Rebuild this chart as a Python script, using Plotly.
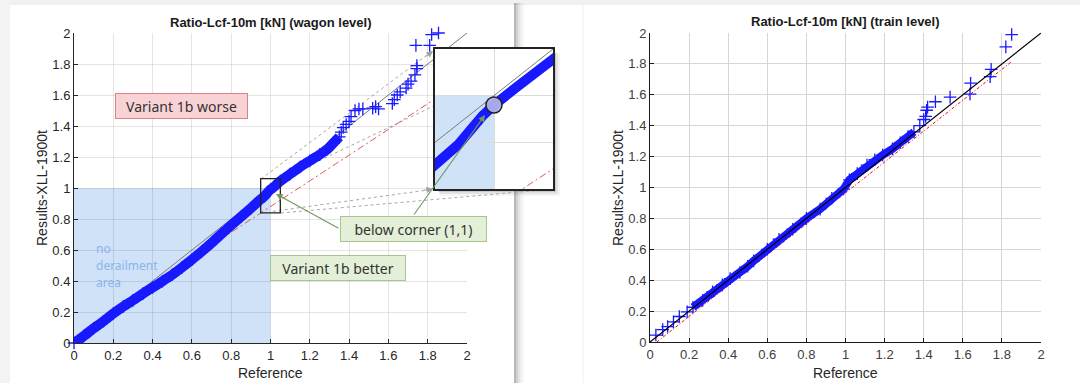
import plotly.graph_objects as go

W, H = 1080, 383

# ---------------- data ----------------
tick_vals = [0, 0.2, 0.4, 0.6, 0.8, 1.0, 1.2, 1.4, 1.6, 1.8, 2.0]
tick_text = ["0", "0.2", "0.4", "0.6", "0.8", "1", "1.2", "1.4", "1.6", "1.8", "2"]

# wagon level (left) - dense part of the quantile curve
wagon_band_ref = [0, 0.05, 0.1, 0.15, 0.2, 0.25, 0.3, 0.35, 0.4, 0.45, 0.5, 0.55, 0.6, 0.65, 0.7,
                  0.75, 0.8, 0.85, 0.9, 0.95, 0.97, 0.99, 1.0, 1.02, 1.035, 1.05, 1.1, 1.15, 1.2,
                  1.25, 1.29, 1.32, 1.35]
wagon_band_res = [0, 0.045, 0.095, 0.14, 0.19, 0.235, 0.275, 0.318, 0.358, 0.398, 0.44, 0.488,
                  0.538, 0.59, 0.645, 0.703, 0.76, 0.815, 0.87, 0.927, 0.948, 0.978, 0.99, 1.01,
                  1.028, 1.045, 1.09, 1.135, 1.175, 1.215, 1.25, 1.29, 1.33]
# wagon level - sparse upper tail
wagon_tail_ref = [1.36, 1.37, 1.385, 1.40, 1.41, 1.43, 1.45, 1.47, 1.52, 1.535, 1.55, 1.62, 1.63,
                  1.645, 1.66, 1.69, 1.70, 1.715, 1.735, 1.745, 1.745, 1.74, 1.81, 1.82, 1.855]
wagon_tail_res = [1.36, 1.39, 1.41, 1.43, 1.46, 1.50, 1.51, 1.51, 1.515, 1.525, 1.51, 1.545, 1.57,
                  1.60, 1.62, 1.645, 1.67, 1.69, 1.73, 1.77, 1.79, 1.92, 1.92, 1.99, 2.0]

# train level (right)
train_band_ref = [0.22, 0.27, 0.32, 0.37, 0.41, 0.46, 0.50, 0.53, 0.60, 0.66, 0.73, 0.80, 0.87,
                  0.93, 0.99, 1.02, 1.06, 1.11, 1.15, 1.19, 1.24, 1.28, 1.32, 1.35]
train_band_res = [0.225, 0.27, 0.325, 0.37, 0.41, 0.45, 0.49, 0.525, 0.60, 0.665, 0.73, 0.80,
                  0.86, 0.93, 0.99, 1.05, 1.09, 1.145, 1.18, 1.21, 1.25, 1.29, 1.33, 1.36]
train_tail_ref = [0.03, 0.065, 0.09, 0.12, 0.15, 0.19, 1.38, 1.40, 1.41, 1.415, 1.42, 1.46,
                  1.535, 1.64, 1.637, 1.74, 1.745, 1.82, 1.85]
train_tail_res = [0.045, 0.08, 0.10, 0.13, 0.165, 0.195, 1.40, 1.44, 1.46, 1.50, 1.52, 1.555,
                  1.585, 1.675, 1.605, 1.717, 1.765, 1.91, 1.99]

diag_ref = [0, 2]
diag_res = [0, 2]
wagon_fit_ref = [0.55, 1.83]
wagon_fit_res = [0.5065, 1.569]
train_fit_ref = [0.035, 1.85]
train_fit_res = [0.0, 1.815]

BLUE = "rgb(25,25,255)"


def px(x):
    return x / W


def py(y):
    return 1 - y / H


fig = go.Figure()

# ---- left (wagon level) ----
fig.add_trace(go.Scatter(x=diag_ref, y=diag_res, mode="lines", xaxis="x", yaxis="y",
                         line=dict(color="#7a7a7a", width=1)))
fig.add_trace(go.Scatter(x=wagon_fit_ref, y=wagon_fit_res, mode="lines", xaxis="x", yaxis="y",
                         line=dict(color="#e05a5a", width=1, dash="7px,3px,2px,3px")))
fig.add_trace(go.Scatter(x=wagon_band_ref, y=wagon_band_res, mode="lines", xaxis="x", yaxis="y",
                         line=dict(color=BLUE, width=10, shape="spline", smoothing=0.6)))
fig.add_trace(go.Scatter(x=wagon_band_ref + wagon_tail_ref, y=wagon_band_res + wagon_tail_res,
                         mode="markers", xaxis="x", yaxis="y", cliponaxis=False,
                         marker=dict(symbol="cross-thin", size=9, color=BLUE,
                                     line=dict(width=1.3, color=BLUE))))

# ---- right (train level) ----
fig.add_trace(go.Scatter(x=train_fit_ref, y=train_fit_res, mode="lines", xaxis="x2", yaxis="y2",
                         line=dict(color="red", width=1, dash="3px,2px,1px,2px")))
fig.add_trace(go.Scatter(x=train_band_ref, y=train_band_res, mode="lines", xaxis="x2", yaxis="y2",
                         line=dict(color=BLUE, width=8)))
fig.add_trace(go.Scatter(x=train_band_ref + train_tail_ref, y=train_band_res + train_tail_res,
                         mode="markers", xaxis="x2", yaxis="y2", cliponaxis=False,
                         marker=dict(symbol="cross-thin", size=9, color=BLUE,
                                     line=dict(width=1.3, color=BLUE))))
fig.add_trace(go.Scatter(x=diag_ref, y=diag_res, mode="lines", xaxis="x2", yaxis="y2",
                         line=dict(color="black", width=1.2)))

# ---- inset (magnified wagon level around (1,1)) ----
fig.add_trace(go.Scatter(x=diag_ref, y=diag_res, mode="lines", xaxis="x3", yaxis="y3",
                         line=dict(color="#7a7a7a", width=1)))
fig.add_trace(go.Scatter(x=wagon_fit_ref, y=wagon_fit_res, mode="lines", xaxis="x3", yaxis="y3",
                         line=dict(color="#e05a5a", width=1, dash="7px,3px,2px,3px")))
fig.add_trace(go.Scatter(x=wagon_band_ref, y=wagon_band_res, mode="lines", xaxis="x3", yaxis="y3",
                         line=dict(color=BLUE, width=10)))

# ---------------- axes ----------------
def main_axis(domain, anchor, grid, line, font_color):
    return dict(domain=domain, anchor=anchor, range=[0, 2], tickvals=tick_vals, ticktext=tick_text,
                showgrid=True, gridcolor=grid, gridwidth=1, zeroline=False,
                showline=True, linecolor=line, linewidth=1, ticks="inside", ticklen=4,
                tickcolor=line, tickfont=dict(family="Liberation Sans, Arial", size=13, color=font_color),
                fixedrange=True, automargin=False)


inset_x_range = [0.95, 1.05]
inset_y_range = [0.90, 1.05]

fig.update_layout(
    width=W, height=H, autosize=False,
    margin=dict(l=0, r=0, t=0, b=0, pad=0, autoexpand=False),
    paper_bgcolor="white", plot_bgcolor="rgba(0,0,0,0)",
    showlegend=False, hovermode=False,
    xaxis=main_axis([px(74), px(467)], "y", "rgba(40,40,40,0.12)", "#262626", "#262626"),
    yaxis=main_axis([py(343), py(33)], "x", "rgba(40,40,40,0.12)", "#262626", "#262626"),
    xaxis2=main_axis([px(650), px(1041)], "y2", "#d6d6d6", "#1a1a1a", "#404040"),
    yaxis2=main_axis([py(342), py(33)], "x2", "#d6d6d6", "#1a1a1a", "#404040"),
    xaxis3=dict(domain=[px(435), px(553)], anchor="y3", range=inset_x_range, dtick=0.05,
                showgrid=True, gridcolor="#dcdcdc", zeroline=False, showticklabels=False,
                ticks="", showline=True, mirror=True, linecolor="#222", linewidth=1.5,
                fixedrange=True),
    yaxis3=dict(domain=[py(189), py(49)], anchor="x3", range=inset_y_range, dtick=0.05,
                showgrid=True, gridcolor="#dcdcdc", zeroline=False, showticklabels=False,
                ticks="", showline=True, mirror=True, linecolor="#222", linewidth=1.5,
                fixedrange=True),
)

shapes = []
# page background pieces
shapes.append(dict(type="rect", xref="paper", yref="paper", x0=0, x1=1, y0=py(5), y1=1,
                   fillcolor="#f1f1f1", line=dict(width=0), layer="below"))
shapes.append(dict(type="rect", xref="paper", yref="paper", x0=0, x1=px(10), y0=0, y1=1,
                   fillcolor="#f3f3f3", line=dict(width=0), layer="below"))
for i, op in enumerate([0.28, 0.18, 0.11, 0.06, 0.03]):
    shapes.append(dict(type="rect", xref="paper", yref="paper", x0=px(514 + 2 * i), x1=px(516 + 2 * i),
                       y0=0, y1=py(3), fillcolor="black", opacity=op, line=dict(width=0), layer="below"))
shapes.append(dict(type="line", xref="paper", yref="paper", x0=px(583), x1=px(583), y0=0, y1=py(5),
                   line=dict(color="#f0f0f0", width=1), layer="below"))
# no-derailment area
shapes.append(dict(type="rect", xref="x", yref="y", x0=0, x1=1, y0=0, y1=1,
                   fillcolor="#cfe2f8", line=dict(width=0), layer="below"))
# inset shadow
for i, op in enumerate([0.10, 0.07, 0.04]):
    shapes.append(dict(type="rect", xref="paper", yref="paper", x0=px(438 + i), x1=px(556 + 2 * i),
                       y0=py(192 + 2 * i), y1=py(52 + i), fillcolor="black", opacity=op,
                       line=dict(width=0), layer="below"))
# connectors (box corners -> inset corners)
conn = [((261, 179), (435, 49)), ((281, 179), (553, 49)), ((261, 213), (435, 189)), ((281, 213), (553, 189))]
for (a, b) in conn:
    shapes.append(dict(type="line", xref="paper", yref="paper", x0=px(a[0]), y0=py(a[1]),
                       x1=px(b[0]), y1=py(b[1]), line=dict(color="#a8a8a8", width=1, dash="dot"),
                       layer="below"))
# inset background + area
shapes.append(dict(type="rect", xref="x3", yref="y3", x0=inset_x_range[0], x1=inset_x_range[1],
                   y0=inset_y_range[0], y1=inset_y_range[1], fillcolor="white", line=dict(width=0),
                   layer="below"))
shapes.append(dict(type="rect", xref="x3", yref="y3", x0=inset_x_range[0], x1=1.0,
                   y0=inset_y_range[0], y1=1.0, fillcolor="#cfe2f8", line=dict(width=0), layer="below"))
# magnification box in main plot
shapes.append(dict(type="rect", xref="x", yref="y", x0=0.95, x1=1.05, y0=0.84, y1=1.06,
                   line=dict(color="#222", width=1.3), layer="above"))
# circle in inset
shapes.append(dict(type="circle", xref="x3", yref="y3", x0=1.0 - 0.0068, x1=1.0 + 0.0068,
                   y0=0.99 - 0.0086, y1=0.99 + 0.0086, fillcolor="rgba(175,175,235,0.95)",
                   line=dict(color="#222", width=1.5), layer="above"))
fig.update_layout(shapes=shapes)

ann = []
TF = dict(family="Liberation Sans, Arial", size=13, color="#1a1a1a")
ann.append(dict(text="<b>Ratio-Lcf-10m [kN] (wagon level)</b>", x=px(270.5), y=py(23), xref="paper",
                yref="paper", showarrow=False, xanchor="center", yanchor="middle", font=TF))
ann.append(dict(text="<b>Ratio-Lcf-10m [kN] (train level)</b>", x=px(845.5), y=py(22), xref="paper",
                yref="paper", showarrow=False, xanchor="center", yanchor="middle", font=TF))
LF = dict(family="Liberation Sans, Arial", size=14, color="#262626")
ann.append(dict(text="Reference", x=px(270.5), y=py(373), xref="paper", yref="paper", showarrow=False,
                xanchor="center", yanchor="middle", font=LF))
ann.append(dict(text="Reference", x=px(845.5), y=py(373), xref="paper", yref="paper", showarrow=False,
                xanchor="center", yanchor="middle", font=LF))
ann.append(dict(text="Results-XLL-1900t", x=px(42), y=py(188), xref="paper", yref="paper",
                showarrow=False, textangle=-90, xanchor="center", yanchor="middle", font=LF))
ann.append(dict(text="Results-XLL-1900t", x=px(618), y=py(188), xref="paper", yref="paper",
                showarrow=False, textangle=-90, xanchor="center", yanchor="middle", font=LF))

BF = dict(family="Noto Sans", size=14, color="#333333")
ann.append(dict(text="Variant 1b worse", x=px(181), y=py(105.5), xref="paper", yref="paper",
                showarrow=False, xanchor="center", yanchor="middle", font=BF, width=131, height=24,
                bgcolor="#f9d2d6", bordercolor="#d98089", borderwidth=1, borderpad=0))
ann.append(dict(text="below corner (1,1)", x=px(413), y=py(229), xref="paper", yref="paper",
                showarrow=False, xanchor="center", yanchor="middle", font=BF, width=145, height=24,
                bgcolor="#e3efd6", bordercolor="#a9c58e", borderwidth=1, borderpad=0))
ann.append(dict(text="Variant 1b better", x=px(338), y=py(268), xref="paper", yref="paper",
                showarrow=False, xanchor="center", yanchor="middle", font=BF, width=134, height=24,
                bgcolor="#e3efd6", bordercolor="#a9c58e", borderwidth=1, borderpad=0))
NF = dict(family="Noto Sans", size=12, color="#8db3ee")
for word, yy in [("no", 248), ("derailment", 265), ("area", 282)]:
    ann.append(dict(text=word, x=px(95), y=py(yy), xref="paper", yref="paper", borderpad=0,
                    showarrow=False, xanchor="left", yanchor="middle", align="left", font=NF))

# green arrows
ann.append(dict(text="", x=px(276), y=py(194), xref="paper", yref="paper", showarrow=True,
                ax=64, ay=35, arrowhead=2, arrowsize=1.2, arrowwidth=1.1, arrowcolor="#6f9a5c",
                standoff=0))
ann.append(dict(text="", x=px(485), y=py(115), xref="paper", yref="paper", showarrow=True,
                ax=-72, ay=101, arrowhead=2, arrowsize=1.2, arrowwidth=1.1, arrowcolor="#6f9a5c",
                standoff=0))
# grey arrowheads of connectors
ann.append(dict(text="", x=px(433), y=py(51), xref="paper", yref="paper", showarrow=True,
                ax=-9, ay=7, arrowhead=2, arrowsize=1.3, arrowwidth=1, arrowcolor="#a0a0a0", standoff=0))
ann.append(dict(text="", x=px(433), y=py(189), xref="paper", yref="paper", showarrow=True,
                ax=-11, ay=1.5, arrowhead=2, arrowsize=1.3, arrowwidth=1, arrowcolor="#a0a0a0", standoff=0))
fig.update_layout(annotations=ann)

fig.write_html("out.html",
               post_script="document.body.style.margin='0';document.body.style.overflow='hidden';")
